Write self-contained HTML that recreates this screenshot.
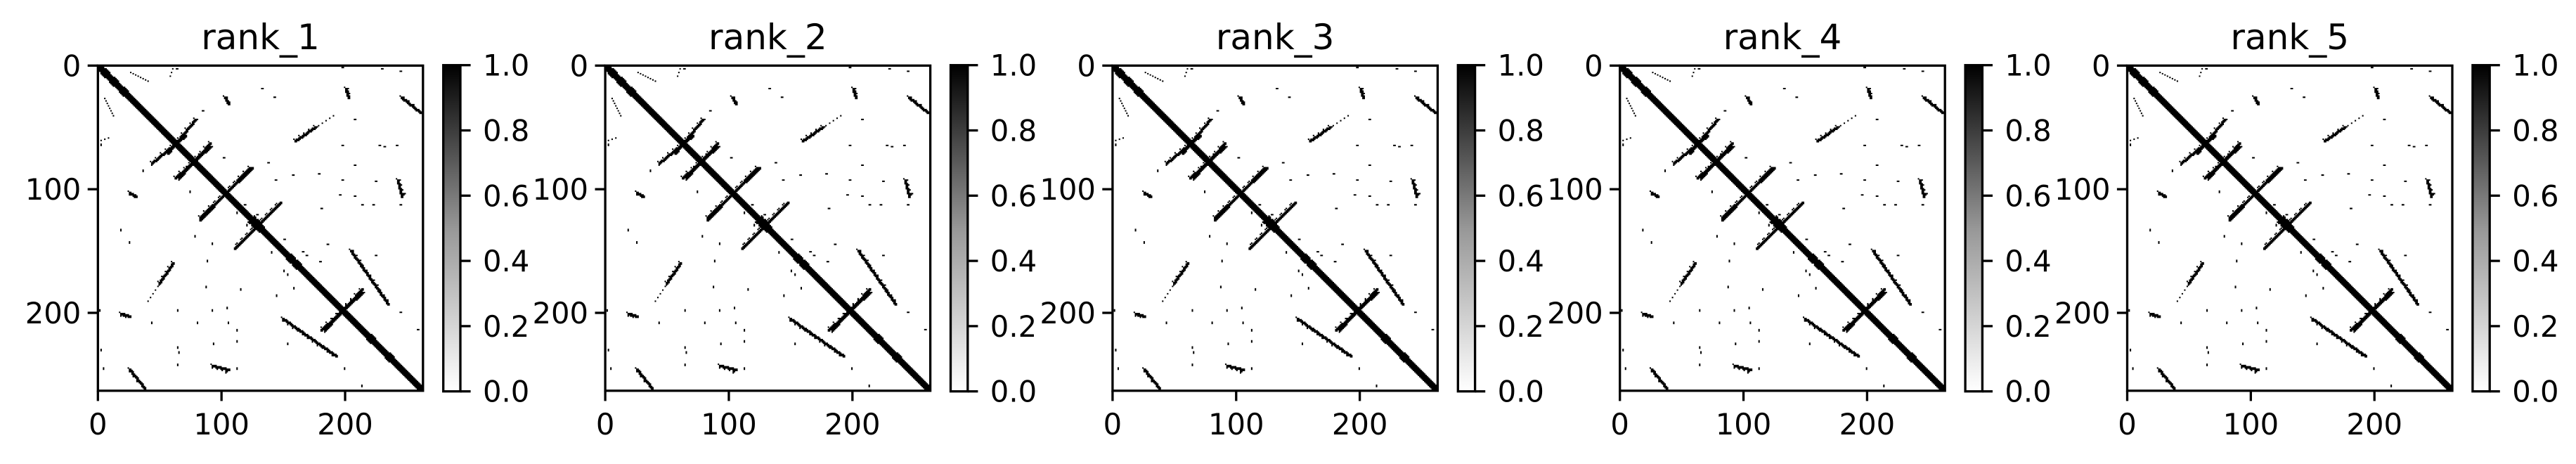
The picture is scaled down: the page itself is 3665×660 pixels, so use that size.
<!DOCTYPE html>
<html><head><meta charset="utf-8">
<style>
html,body{margin:0;padding:0;background:#fff;}
body{width:3665px;height:656px;overflow:hidden;font-family:"DejaVu Sans","Liberation Sans",sans-serif;}
svg text{font-family:"DejaVu Sans","Liberation Sans",sans-serif;fill:#000;}
</style></head>
<body>
<svg id="fig" width="3665" height="656" xmlns="http://www.w3.org/2000/svg">
<defs>
<linearGradient id="greys" x1="0" y1="1" x2="0" y2="0">
<stop offset="0" stop-color="#ffffff"/><stop offset="0.5" stop-color="#979797"/><stop offset="1" stop-color="#000000"/>
</linearGradient>
</defs>
</svg>
<script>
// ---- data ----
const panelTitles = ["rank_1","rank_2","rank_3","rank_4","rank_5"];
const nRes = 263;
const axisTicks = [0,100,200];
const cbTicks = [0.0,0.2,0.4,0.6,0.8,1.0];
const cbTickLabels = ["0.0","0.2","0.4","0.6","0.8","1.0"];
// contact segments (upper triangle, mirrored)
const segX0 = [78,90,122,145,213,204,175,200,245,102,242,40,60,190];
const segY0 = [43,65,82,112,183,149,49,18,25,25,92,12,2,40];
const segX1 = [56,62,82,110,180,234,159,202,260,105,245,25,58,176];
const segY1 = [70,90,124,147,213,192,60,25,37,30,105,5,8,49];
const segStep = [1,1,1,1,1,1,1,1,1,1,1,2,3,3];
// helix blobs along diagonal
const blobC = [5,12,20,30,45,60,95,105,125,130,155,160,175,190,215,220,235,250];
const blobR = [3,3,3,2,2,2,2,2,4,3,3,3,2,2,2,3,3,2];
// scattered contacts
const dotX = [63,132,142,197,229,244,207,241,227,197,207,224,197,143,137,157,178,180,222,213,195,207,231,247,244,185,224,179,168,258,244,118,101,84,120,128,133,150,165];
const dotY = [2,18,25,1,2,4,43,64,64,64,80,93,92,92,78,88,87,115,112,112,104,105,65,103,112,144,153,158,153,213,199,112,74,36,118,120,135,140,150];

// ---- layout ----
const NS="http://www.w3.org/2000/svg";
const fig=document.getElementById('fig');
const axL0=139.3, axT=93.3, axS=462.5, pitch=721.8;
const sc=axS/nRes;
function el(tag,attrs,parent){const e=document.createElementNS(NS,tag);for(const k in attrs)e.setAttribute(k,attrs[k]);(parent||fig).appendChild(e);return e;}

function buildCells(){
  const cells=new Set();
  const add=(x,y)=>{x=Math.round(x);y=Math.round(y);if(x<0||y<0||x>=nRes||y>=nRes)return;cells.add(x+','+y);cells.add(y+','+x);};
  for(let i=0;i<nRes;i++){add(i,i);add(i+1,i);add(i+2,i);add(i+3,i);}
  for(let b=0;b<blobC.length;b++){const c=blobC[b],r=blobR[b];for(let dx=-r;dx<=r;dx++)for(let dy=0;dy<=r;dy++)if(Math.abs(dx)+dy<=r+1)add(c+dx+dy,c+dy-dx*0.3);}
  for(let s=0;s<segX0.length;s++){
    const L=Math.max(Math.abs(segX1[s]-segX0[s]),Math.abs(segY1[s]-segY0[s]));
    for(let t=0;t<=L;t+=segStep[s]){const x=segX0[s]+(segX1[s]-segX0[s])*t/L,y=segY0[s]+(segY1[s]-segY0[s])*t/L;add(x,y);if(segStep[s]===1){add(x+1,y);add(x,y+1);add(x+1,y+1);if(t%4===0){add(x+2,y);add(x-1,y-1);}}}
  }
  for(let d=0;d<dotX.length;d++){add(dotX[d],dotY[d]);add(dotX[d]+1,dotY[d]);}
  return cells;
}
const cells=buildCells();

panelTitles.forEach((title,p)=>{
  const L=axL0+p*pitch, xs=v=>L+(v+0.5)*sc, ys=v=>axT+(v+0.5)*sc;
  const g=el('g',{});
  
  
  const img=el('g',{},g);
  
  
  let d='';
  cells.forEach(k=>{const [x,y]=k.split(',').map(Number);d+=`M${(L+x*sc).toFixed(2)} ${(axT+y*sc).toFixed(2)}h${(sc+0.3).toFixed(2)}v${(sc+0.3).toFixed(2)}h-${(sc+0.3).toFixed(2)}z`;});
  const path=el('path',{d:d,fill:'#000'},img);
  
  
  const frame=el('rect',{x:L,y:axT,width:axS,height:axS,fill:'none',stroke:'#000','stroke-width':3.3},g);
  
  
  const t=el('text',{x:L+axS/2,y:70,'font-size':50,'text-anchor':'middle'},g);t.textContent=title;
  
  
  axisTicks.forEach(v=>{
    el('line',{x1:xs(v)-0.5*sc,x2:xs(v)-0.5*sc,y1:axT+axS,y2:axT+axS+14.6,stroke:'#000','stroke-width':3.3},g);
    const tx=el('text',{x:xs(v)-0.5*sc,y:618,'font-size':41.7,'text-anchor':'middle'},g);tx.textContent=v;
    
    
    el('line',{x1:L-14.6,x2:L,y1:ys(v)-0.5*sc,y2:ys(v)-0.5*sc,stroke:'#000','stroke-width':3.3},g);
    const ty=el('text',{x:L-24,y:ys(v)-0.5*sc+15,'font-size':41.7,'text-anchor':'end'},g);ty.textContent=v;
    
    
  });
  // colorbar
  const cbL=L+491.4, cbW=24.3, cbT=92.7, cbH=464;
  const cb=el('rect',{x:cbL,y:cbT,width:cbW,height:cbH,fill:'url(#greys)',stroke:'#000','stroke-width':3.3},g);
  
  
  cbTicks.forEach((v,i)=>{
    const y=cbT+cbH*(1-v);
    el('line',{x1:cbL+cbW,x2:cbL+cbW+14.6,y1:y,y2:y,stroke:'#000','stroke-width':3.3},g);
    const tl=el('text',{x:cbL+cbW+32,y:y+15,'font-size':41.7},g);tl.textContent=cbTickLabels[i];
    
    
  });
});
</script>
</body></html>
